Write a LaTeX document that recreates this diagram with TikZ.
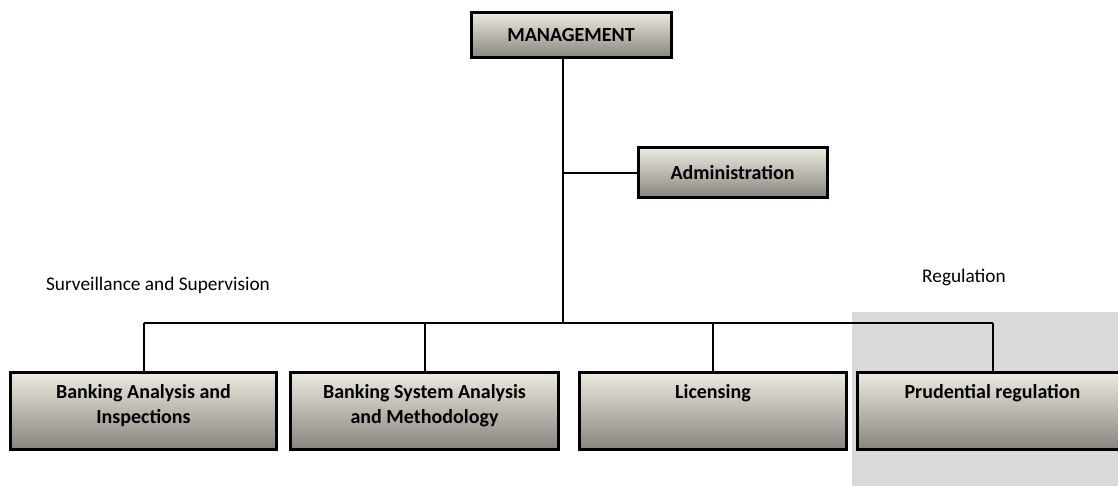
\documentclass[tikz,border=0pt]{standalone}
\usepackage{fontspec}
\setmainfont{Carlito}
\usepackage{tikz}

\definecolor{boxtop}{RGB}{237,235,224}
\definecolor{boxmid}{RGB}{206,204,192}
\definecolor{boxbot}{RGB}{134,132,124}
\definecolor{regiongray}{RGB}{217,217,217}

\begin{document}
\begin{tikzpicture}[x=1pt,y=-1pt,
  org node/.style={rectangle,draw=black,line width=3pt,top color=boxtop,middle color=boxmid,bottom color=boxbot,
    font=\fontsize{20}{25}\selectfont\bfseries,inner sep=0pt},
  group label/.style={font=\fontsize{19.3}{22}\selectfont},
  link/.style={draw=black,line width=2pt}]

  \useasboundingbox (0,0) rectangle (1118,486);
  % regulation area
  \fill[regiongray] (852,312) rectangle (1130,486);

  \node[org node,minimum width=200,minimum height=45] (mgmt) at (571,35.5) {MANAGEMENT};
  \node[org node,minimum width=189,minimum height=50] (admin) at (732.5,173) {Administration};

  \node[org node,anchor=north west] (bai) at (9,371)
    {\parbox[c][77pt][t]{266pt}{\centering\vspace{12pt}Banking Analysis and\\Inspections}};
  \node[org node,anchor=north west] (bsam) at (289,371)
    {\parbox[c][77pt][t]{268pt}{\centering\vspace{12pt}Banking System Analysis\\and Methodology}};
  \node[org node,anchor=north west] (lic) at (578,371)
    {\parbox[c][77pt][t]{267pt}{\centering\vspace{12pt}Licensing}};
  \node[org node,anchor=north west] (prud) at (856,371)
    {\parbox[c][77pt][t]{270pt}{\centering\vspace{12pt}Prudential regulation}};

  \node[group label] (surv) at (158,285) {Surveillance and Supervision};
  \node[group label] (reg) at (964,277) {Regulation};

  \coordinate (bus) at (563,323);
  \coordinate (busl) at (bai.north |- bus);
  \coordinate (busr) at (prud.north |- bus);

  \path[link]
    (mgmt.south -| bus) edge (bus)
    (bus |- admin.west) edge (admin.west)
    (busl) edge (busr)
    (busl) edge (bai.north)
    (bsam.north |- bus) edge (bsam.north)
    (lic.north |- bus) edge (lic.north)
    (busr) edge (prud.north);
\end{tikzpicture}
\end{document}
